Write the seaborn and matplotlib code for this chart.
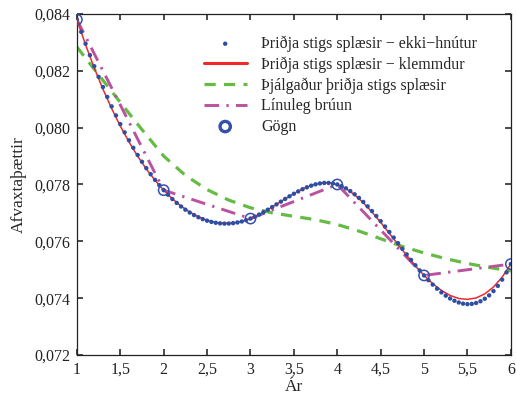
#!/usr/bin/env python3
"""Discount factors: cubic spline variants vs linear interpolation."""

import numpy as np
import pandas as pd
import matplotlib

matplotlib.use("Agg")
import matplotlib.pyplot as plt
import seaborn as sns
from matplotlib.ticker import FuncFormatter

# data points (year, discount factor)
YEARS = [1, 2, 3, 4, 5, 6]
FACTORS = [0.0838, 0.0778, 0.0768, 0.0780, 0.0748, 0.0752]

# not-a-knot cubic spline, read at steps of 0.05 (units of 1e-4)
NOT_A_KNOT = [
    838.0, 833.69, 829.52, 825.49, 821.61, 817.87, 814.27, 810.80, 807.48, 804.29,
    801.24, 798.33, 795.55, 792.90, 790.38, 788.00, 785.74, 783.61, 781.62, 779.75,
    778.0, 776.38, 774.88, 773.51, 772.26, 771.13, 770.12, 769.23, 768.46, 767.80,
    767.26, 766.83, 766.52, 766.32, 766.23, 766.26, 766.39, 766.63, 766.98, 767.44,
    768.0, 768.66, 769.42, 770.24, 771.13, 772.05, 773.00, 773.96, 774.91, 775.84,
    776.73, 777.56, 778.33, 779.00, 779.58, 780.04, 780.36, 780.54, 780.55, 780.37,
    780.0, 779.42, 778.64, 777.68, 776.55, 775.27, 773.85, 772.30, 770.65, 768.91,
    767.09, 765.21, 763.28, 761.32, 759.35, 757.37, 755.41, 753.47, 751.58, 749.76,
    748.0, 746.34, 744.78, 743.34, 742.03, 740.88, 739.89, 739.09, 738.48, 738.08,
    737.91, 737.98, 738.31, 738.91, 739.79, 740.98, 742.49, 744.33, 746.52, 749.07,
    752.0,
]

# clamped cubic spline, read at steps of 0.1 (units of 1e-4)
CLAMPED = [
    838.0, 829.16, 821.03, 813.57, 806.76, 800.57, 794.98, 789.95, 785.46, 781.49,
    778.0, 774.97, 772.40, 770.29, 768.62, 767.41, 766.64, 766.32, 766.44, 767.00,
    768.0, 769.41, 771.13, 773.02, 774.96, 776.80, 778.41, 779.67, 780.45, 780.60,
    780.0, 778.56, 776.38, 773.57, 770.29, 766.66, 762.82, 758.89, 755.03, 751.35,
    748.0, 745.10, 742.73, 740.96, 739.89, 739.57, 740.08, 741.51, 743.92, 747.39,
    752.0,
]

# smoothing spline, read at steps of 0.25 (units of 1e-4)
SMOOTHED = [
    828.4, 818.6, 808.9, 799.3, 790.0, 783.2, 778.2, 774.5, 771.8, 770.0, 768.8,
    767.6, 765.9, 763.6, 760.9, 758.2, 755.9, 753.9, 752.2, 750.8, 749.6,
]

LABELS = [
    "Þriðja stigs splæsir \u2212 ekki\u2212hnútur",
    "Þriðja stigs splæsir \u2212 klemmdur",
    "Þjálgaður þriðja stigs splæsir",
    "Línuleg brúun",
    "Gögn",
]


def comma(value, digits):
    return f"{value:.{digits}f}".replace(".", ",")


def main() -> None:
    sns.set_theme(style="ticks")
    plt.rcParams.update({
        "font.family": ["Liberation Serif", "DejaVu Serif"],
        "font.size": 11.5,
        "axes.edgecolor": "#222222",
        "axes.linewidth": 0.9,
        "xtick.direction": "in",
        "ytick.direction": "in",
        "xtick.top": True,
        "ytick.right": True,
        "xtick.color": "#333333",
        "ytick.color": "#333333",
        "xtick.labelcolor": "#222222",
        "ytick.labelcolor": "#222222",
        "xtick.major.size": 4,
        "ytick.major.size": 4,
    })

    nak = pd.DataFrame({"x": np.linspace(1, 6, len(NOT_A_KNOT)), "y": np.array(NOT_A_KNOT) * 1e-4})
    clamped = pd.DataFrame({"x": np.linspace(1, 6, len(CLAMPED)), "y": np.array(CLAMPED) * 1e-4})
    smooth = pd.DataFrame({"x": np.linspace(1, 6, len(SMOOTHED)), "y": np.array(SMOOTHED) * 1e-4})
    points = pd.DataFrame({"x": YEARS, "y": FACTORS})

    fig = plt.figure(figsize=(5.16, 3.98), dpi=100)
    ax = fig.add_axes([0.149, 0.108, 0.841, 0.857])

    sns.scatterplot(data=nak, x="x", y="y", ax=ax, s=10, color="#2d4fa3",
                    edgecolor="none", label=LABELS[0], zorder=4)
    sns.lineplot(data=clamped, x="x", y="y", ax=ax, color="#f02828", linewidth=1.1,
                 label=LABELS[1], zorder=3)
    sns.lineplot(data=smooth, x="x", y="y", ax=ax, color="#66bb44", linewidth=2.3,
                 linestyle=(0, (3.5, 2.6)), label=LABELS[2], zorder=2)
    sns.lineplot(data=points, x="x", y="y", ax=ax, color="#b9529f", linewidth=2.1,
                 linestyle=(0, (5, 2.5, 0.8, 2.5)), label=LABELS[3], zorder=2)
    sns.scatterplot(data=points, x="x", y="y", ax=ax, s=55, facecolor="none",
                    edgecolor="#3550a8", linewidth=1.1, label=LABELS[4], zorder=5)

    ax.set_xlim(1, 6)
    ax.set_ylim(0.072, 0.084)
    ax.set_xticks(np.arange(1, 6.01, 0.5))
    ax.set_yticks(np.arange(0.072, 0.0841, 0.002))
    ax.xaxis.set_major_formatter(FuncFormatter(lambda v, p: comma(v, 0 if v == int(v) else 1)))
    ax.yaxis.set_major_formatter(FuncFormatter(lambda v, p: comma(v, 3)))
    ax.tick_params(labelsize=11.5, pad=5)
    ax.set_xlabel("Ár", fontsize=12.5, labelpad=1)
    ax.set_ylabel("Afvaxtaþættir", fontsize=12.5, labelpad=5)
    for side in ["top", "right"]:
        ax.spines[side].set_visible(True)

    handles, _ = ax.get_legend_handles_labels()
    leg = ax.legend(handles, LABELS, loc="upper left", bbox_to_anchor=(0.27, 0.965),
                    frameon=False, fontsize=11.5, handlelength=2.7, handletextpad=0.9,
                    labelspacing=0.28, borderaxespad=0.2)
    leg.legend_handles[1].set_linewidth(2.2)
    leg.legend_handles[4].set_linewidth(2.4)

    fig.savefig("out.png", dpi=100)
    plt.close(fig)


if __name__ == "__main__":
    main()
